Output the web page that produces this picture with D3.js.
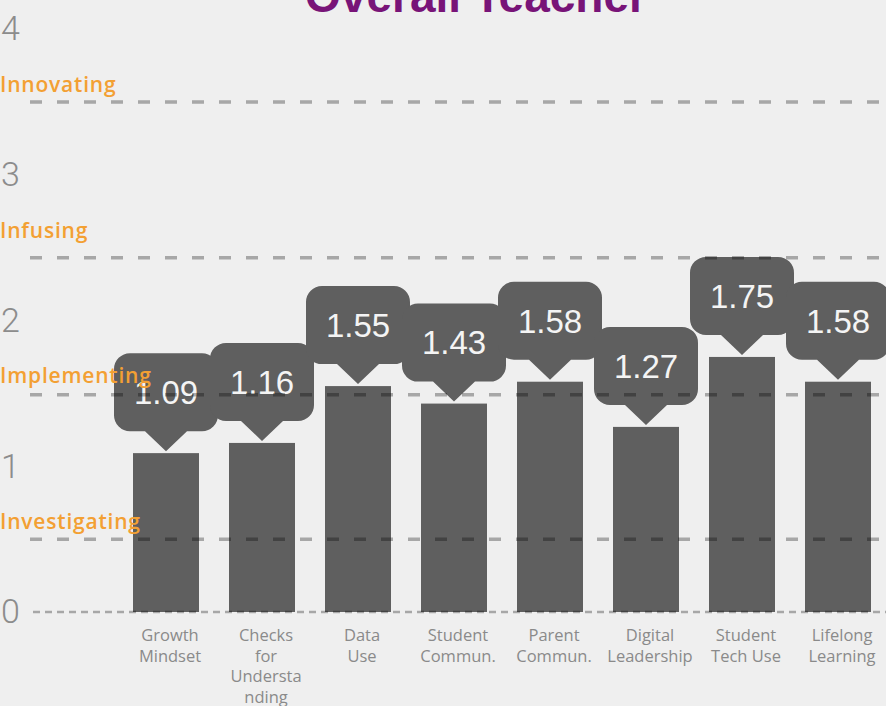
<!DOCTYPE html>
<html>
<head>
<meta charset="utf-8">
<script src="https://cdn.jsdelivr.net/npm/d3@7"></script>
<style>
  html, body { margin: 0; padding: 0; background: #efefef; }
  svg { display: block; }
</style>
</head>
<body>
<div id="chart"></div>
<script>
// values
var categories = ["Growth Mindset", "Checks for Understanding", "Data Use", "Student Commun.",
    "Parent Commun.", "Digital Leadership", "Student Tech Use", "Lifelong Learning"];
var categoryLines = [["Growth", "Mindset"], ["Checks", "for", "Understa", "nding"], ["Data", "Use"],
    ["Student", "Commun."], ["Parent", "Commun."], ["Digital", "Leadership"], ["Student", "Tech Use"],
    ["Lifelong", "Learning"]];
var scores = [1.09, 1.16, 1.55, 1.43, 1.58, 1.27, 1.75, 1.58];
var yTicks = [0, 1, 2, 3, 4];
var levelNames = ["Investigating", "Implementing", "Infusing", "Innovating"];
var levelLineValues = [0.5, 1.49, 2.43, 3.5];
var levelLabelValues = [0.62, 1.62, 2.62, 3.62];
var title = "Overall Teacher";

var width = 886, height = 706;

var svg = d3.select("#chart").append("svg")
    .attr("width", width)
    .attr("height", height);

svg.append("rect")
    .attr("width", width)
    .attr("height", height)
    .attr("fill", "#efefef");

var xScale = d3.scaleBand()
    .domain(categories)
    .range([118, 886])
    .paddingInner(0.3125)
    .paddingOuter(0.15625);

var yScale = d3.scaleLinear()
    .domain([0, 4])
    .range([612, 29]);

var data = categories.map(function (c, i) {
    return { name: c, value: scores[i], lines: categoryLines[i] };
});

// title, cut off by the top edge
svg.append("text")
    .attr("x", 476)
    .attr("y", 12)
    .attr("text-anchor", "middle")
    .attr("font-family", "Liberation Sans, Arial, sans-serif")
    .attr("font-weight", "bold")
    .attr("font-size", 46)
    .attr("fill", "#781478")
    .text(title);

// y tick labels
var yAxis = d3.axisRight(yScale)
    .tickValues(yTicks)
    .tickSize(0)
    .tickPadding(0)
    .tickFormat(d3.format("d"));

var yAxisG = svg.append("g")
    .attr("transform", "translate(1,0)")
    .call(yAxis);
yAxisG.select(".domain").remove();
yAxisG.selectAll("text")
    .attr("font-family", "Roboto, Liberation Sans, sans-serif")
    .attr("font-weight", 300)
    .attr("font-size", 34)
    .attr("fill", "#8c8c8c");

// x category labels
var xAxis = d3.axisBottom(xScale).tickSize(0).tickPadding(0);
var xAxisG = svg.append("g")
    .attr("transform", "translate(4,0)")
    .call(xAxis);
xAxisG.select(".domain").remove();
xAxisG.selectAll("text").each(function (d, i) {
    var t = d3.select(this)
        .attr("y", 641)
        .attr("dy", null)
        .attr("font-family", "Open Sans, sans-serif")
        .attr("font-size", 16.5)
        .attr("fill", "#8a8a8a")
        .text(null);
    data[i].lines.forEach(function (line, j) {
        t.append("tspan")
            .attr("x", 0)
            .attr("y", 641 + j * 20.5)
            .text(line);
    });
});

// bars
var bars = svg.append("g").selectAll("g")
    .data(data)
    .enter().append("g")
    .classed("bar", true);

bars.append("rect")
    .attr("x", function (d) { return xScale(d.name); })
    .attr("y", function (d) { return yScale(d.value); })
    .attr("width", xScale.bandwidth())
    .attr("height", function (d) { return yScale(0) - yScale(d.value); })
    .attr("fill", "#5f5f5f");

// callout bubble above each bar
var bubbleW = 104, bubbleH = 78, tipH = 20, tipHalf = 21, radius = 16;

var bubblePath = function (cx, tipY) {
    var base = tipY - tipH,
        top = base - bubbleH,
        left = cx - bubbleW / 2,
        right = cx + bubbleW / 2;
    var p = d3.path();
    p.moveTo(left + radius, top);
    p.lineTo(right - radius, top);
    p.arcTo(right, top, right, top + radius, radius);
    p.lineTo(right, base - radius);
    p.arcTo(right, base, right - radius, base, radius);
    p.lineTo(cx + tipHalf, base);
    p.lineTo(cx, tipY);
    p.lineTo(cx - tipHalf, base);
    p.lineTo(left + radius, base);
    p.arcTo(left, base, left, base - radius, radius);
    p.lineTo(left, top + radius);
    p.arcTo(left, top, left + radius, top, radius);
    p.closePath();
    return p.toString();
};

bars.append("path")
    .attr("d", function (d) {
        return bubblePath(xScale(d.name) + xScale.bandwidth() / 2, yScale(d.value) - 2);
    })
    .attr("fill", "#5f5f5f");

bars.append("text")
    .attr("x", function (d) { return xScale(d.name) + xScale.bandwidth() / 2; })
    .attr("y", function (d) { return yScale(d.value) - 2 - tipH - bubbleH / 2; })
    .attr("dy", "0.36em")
    .attr("text-anchor", "middle")
    .attr("font-family", "Liberation Sans, Arial, sans-serif")
    .attr("font-size", 33)
    .attr("fill", "#f4f4f4")
    .text(function (d) { return d.value.toFixed(2); });

// dashed level lines, drawn over the bars
svg.append("line")
    .attr("x1", 33)
    .attr("x2", width)
    .attr("y1", yScale(0))
    .attr("y2", yScale(0))
    .attr("stroke", "#000")
    .attr("stroke-opacity", 0.3)
    .attr("stroke-width", 2.5)
    .attr("stroke-dasharray", "7,5");

svg.append("g").selectAll("line")
    .data(levelLineValues)
    .enter().append("line")
    .attr("x1", 30)
    .attr("x2", width)
    .attr("y1", function (d) { return yScale(d); })
    .attr("y2", function (d) { return yScale(d); })
    .attr("stroke", "#000")
    .attr("stroke-opacity", 0.3)
    .attr("stroke-width", 3.5)
    .attr("stroke-dasharray", "12,15");

svg.append("g").selectAll("text")
    .data(levelNames)
    .enter().append("text")
    .attr("x", 0)
    .attr("y", function (d, i) { return yScale(levelLabelValues[i]); })
    .attr("dy", "0.36em")
    .attr("font-family", "Open Sans, sans-serif")
    .attr("font-weight", 600)
    .attr("font-size", 21)
    .attr("letter-spacing", 0.8)
    .attr("fill", "#f3a033")
    .text(function (d) { return d; });
</script>
</body>
</html>
